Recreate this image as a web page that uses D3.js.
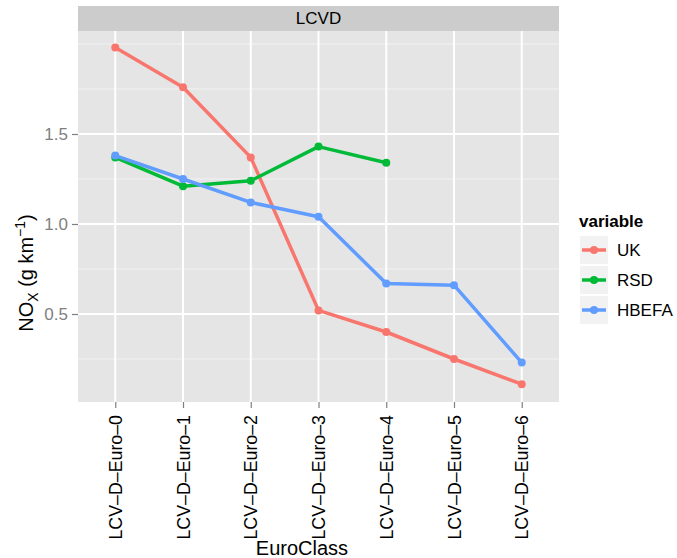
<!DOCTYPE html>
<html>
<head>
<meta charset="utf-8">
<script src="https://cdn.jsdelivr.net/npm/d3@7"></script>
<style>
  body { margin: 0; background: #fff; }
  text { font-family: "Liberation Sans", Arial, sans-serif; }
</style>
</head>
<body>
<script>
const euroClasses = ["LCV–D–Euro–0", "LCV–D–Euro–1", "LCV–D–Euro–2", "LCV–D–Euro–3", "LCV–D–Euro–4", "LCV–D–Euro–5", "LCV–D–Euro–6"];
const ukValues = [1.98, 1.76, 1.37, 0.52, 0.40, 0.25, 0.11];
const rsdValues = [1.37, 1.21, 1.24, 1.43, 1.34, null, null];
const hbefaValues = [1.38, 1.25, 1.12, 1.04, 0.67, 0.66, 0.23];
const seriesNames = ["UK", "RSD", "HBEFA"];
const seriesColors = ["#F8766D", "#00BA38", "#619CFF"];
const yTicks = [0.5, 1.0, 1.5];
const yMinor = [0.25, 0.75, 1.25, 1.75, 2.0];

const series = [ukValues, rsdValues, hbefaValues].map((vals, i) => ({
    name: seriesNames[i],
    color: seriesColors[i],
    values: vals.map((v, j) => ({x: euroClasses[j], y: v})).filter(d => d.y !== null)
}));

const width = 677, height = 558;
const panel = {left: 78, right: 559, top: 31, bottom: 402};

const svg = d3.select("body").append("svg")
    .attr("width", width)
    .attr("height", height);

const x = d3.scalePoint()
    .domain(euroClasses)
    .range([panel.left, panel.right])
    .padding(0.55);

const y = d3.scaleLinear()
    .domain([1 - (panel.bottom - 224) / 180, 1 + (224 - panel.top) / 180])
    .range([panel.bottom, panel.top]);

// strip
svg.append("rect")
    .attr("x", panel.left).attr("y", 6)
    .attr("width", panel.right - panel.left).attr("height", panel.top - 6)
    .attr("fill", "#CCCCCC");
svg.append("text")
    .attr("x", (panel.left + panel.right) / 2).attr("y", 24)
    .attr("text-anchor", "middle")
    .attr("font-size", 17)
    .text("LCVD");

// panel background
svg.append("rect")
    .attr("x", panel.left).attr("y", panel.top)
    .attr("width", panel.right - panel.left).attr("height", panel.bottom - panel.top)
    .attr("fill", "#E5E5E5");

const grid = svg.append("g");
grid.selectAll(".minor")
    .data(yMinor)
    .join("line")
    .attr("x1", panel.left).attr("x2", panel.right)
    .attr("y1", d => y(d)).attr("y2", d => y(d))
    .attr("stroke", "#F2F2F2").attr("stroke-width", 1);
grid.selectAll(".major")
    .data(yTicks)
    .join("line")
    .attr("x1", panel.left).attr("x2", panel.right)
    .attr("y1", d => y(d)).attr("y2", d => y(d))
    .attr("stroke", "#fff").attr("stroke-width", 2);
grid.selectAll(".vmajor")
    .data(euroClasses)
    .join("line")
    .attr("x1", d => x(d)).attr("x2", d => x(d))
    .attr("y1", panel.top).attr("y2", panel.bottom)
    .attr("stroke", "#fff").attr("stroke-width", 2);

// axes
const yAxis = svg.append("g")
    .attr("transform", `translate(${panel.left},0)`)
    .call(d3.axisLeft(y).tickValues(yTicks).tickFormat(d3.format(".1f")).tickSize(6).tickPadding(4));
yAxis.select(".domain").remove();
yAxis.selectAll("line").attr("stroke", "#7F7F7F").attr("stroke-width", 1.2);
yAxis.selectAll("text")
    .attr("fill", "#7F7F7F")
    .attr("font-size", 17)
    .attr("font-family", "Liberation Sans, Arial, sans-serif");

const xAxis = svg.append("g")
    .attr("transform", `translate(0,${panel.bottom})`)
    .call(d3.axisBottom(x).tickSize(6).tickPadding(6));
xAxis.select(".domain").remove();
xAxis.selectAll("line").attr("stroke", "#7F7F7F").attr("stroke-width", 1.2);
xAxis.selectAll("text")
    .attr("fill", "#000")
    .attr("font-size", 17.8)
    .attr("font-family", "Liberation Sans, Arial, sans-serif")
    .attr("transform", "rotate(-90)")
    .attr("text-anchor", "end")
    .attr("x", -13)
    .attr("y", 0)
    .attr("dy", "0.35em");

// axis titles
svg.append("text")
    .attr("x", 302).attr("y", 555)
    .attr("text-anchor", "middle")
    .attr("font-size", 20)
    .text("EuroClass");

const yTitle = svg.append("text")
    .attr("transform", "translate(33,273) rotate(-90)")
    .attr("text-anchor", "middle")
    .attr("font-size", 20);
yTitle.append("tspan").text("NO");
yTitle.append("tspan").attr("font-size", 14).attr("dy", 5).text("X");
yTitle.append("tspan").attr("dy", -5).text(" (g km");
yTitle.append("tspan").attr("font-size", 14).attr("dy", -8).text("−1");
yTitle.append("tspan").attr("dy", 8).text(")");

// lines and points
const line = d3.line().x(d => x(d.x)).y(d => y(d.y));
const plot = svg.append("g");
series.forEach(s => {
    plot.append("path")
        .datum(s.values)
        .attr("d", line)
        .attr("fill", "none")
        .attr("stroke", s.color)
        .attr("stroke-width", 3.5)
        .attr("stroke-linejoin", "round");
    plot.selectAll(null)
        .data(s.values)
        .join("circle")
        .attr("cx", d => x(d.x)).attr("cy", d => y(d.y))
        .attr("r", 4)
        .attr("fill", s.color);
});

// legend
const legend = svg.append("g");
legend.append("text")
    .attr("x", 579).attr("y", 227)
    .attr("font-size", 17).attr("font-weight", "bold")
    .text("variable");
const key = legend.selectAll(".key")
    .data(series)
    .join("g")
    .attr("transform", (d, i) => `translate(580,${236 + i * 30})`);
key.append("rect")
    .attr("width", 28).attr("height", 28)
    .attr("fill", "#F2F2F2");
key.append("line")
    .attr("x1", 2).attr("x2", 26).attr("y1", 14).attr("y2", 14)
    .attr("stroke", d => d.color).attr("stroke-width", 3.5);
key.append("circle")
    .attr("cx", 14).attr("cy", 14).attr("r", 4)
    .attr("fill", d => d.color);
key.append("text")
    .attr("x", 37).attr("y", 14).attr("dy", "0.35em")
    .attr("font-size", 17)
    .text(d => d.name);
</script>
</body>
</html>
